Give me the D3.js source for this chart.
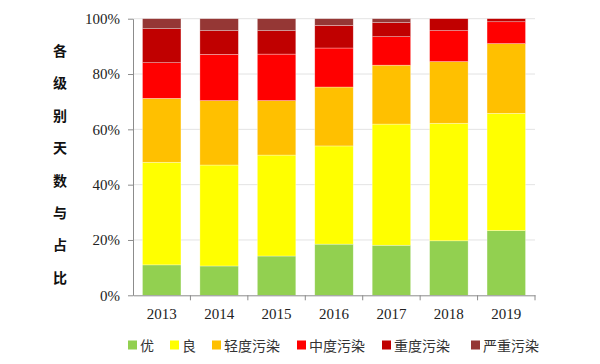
<!DOCTYPE html>
<html><head><meta charset="utf-8">
<script src="https://cdn.jsdelivr.net/npm/d3@7"></script>
<style>body{margin:0;background:#fff;}</style>
</head><body><svg id="c" width="600" height="364"></svg>
<script>
const years = ["2013","2014","2015","2016","2017","2018","2019"];
const seriesNames = ["优","良","轻度污染","中度污染","重度污染","严重污染"];
const colors = ["#92d050","#ffff00","#ffc000","#ff0000","#c00000","#953735"];
const you      = [11.0, 10.6, 14.2, 18.5, 18.1, 19.7, 23.4];
const liang    = [37.1, 36.5, 36.5, 35.5, 43.8, 42.5, 42.4];
const qingdu   = [23.1, 23.3, 19.7, 21.3, 21.3, 22.3, 25.2];
const zhongdu  = [12.9, 16.7, 16.8, 14.1, 10.3, 11.2, 7.9];
const zhongdu2 = [12.3, 8.6, 8.5, 8.2, 5.1, 4.3, 1.1];
const yanzhong = [3.6, 4.3, 4.3, 2.4, 1.4, 0, 0];
const yTicks = [0,20,40,60,80,100];
const yTitle = "各级别天数与占比";

const seriesVals = [you, liang, qingdu, zhongdu, zhongdu2, yanzhong];
const rows = years.map((y,i)=>{const r={year:y};seriesNames.forEach((s,k)=>r[s]=seriesVals[k][i]);return r;});
const stack = d3.stack().keys(seriesNames)(rows);

const svg = d3.select("#c");
const L=133, R=535, T=18.7, B=295.3;
const x = d3.scaleBand().domain(years).range([L,R]).paddingInner(0.33).paddingOuter(0.165);
const y = d3.scaleLinear().domain([0,100]).range([B,T]);

// grid
svg.append("g").selectAll("line").data(yTicks.filter(t=>t>0)).join("line")
  .attr("x1",L).attr("x2",R).attr("y1",d=>y(d)).attr("y2",d=>y(d))
  .attr("stroke","#e3e3e3").attr("stroke-width",1);

// bars
svg.append("g").selectAll("g").data(stack).join("g")
  .attr("fill",(d,i)=>colors[i])
  .selectAll("rect").data(d=>d).join("rect")
  .attr("x",d=>x(d.data.year)).attr("width",x.bandwidth())
  .attr("y",d=>y(d[1])).attr("height",d=>Math.max(0,y(d[0])-y(d[1])))
  .attr("stroke","rgba(255,255,255,0.5)").attr("stroke-width",0.6);

// y axis
const ya = svg.append("g").attr("transform",`translate(${L},0)`)
  .call(d3.axisLeft(y).tickValues(yTicks).tickFormat(d=>d+"%").tickSize(5).tickSizeOuter(0));
ya.attr("font-family",null).attr("font-size",null);
ya.select(".domain").attr("stroke","#8c8c8c");
ya.selectAll(".tick line").attr("stroke","#8c8c8c");
ya.selectAll("text").style("font-family","'Liberation Serif', serif").style("font-size","15px").attr("fill","#222").attr("x",-13);

// x axis
const xa = svg.append("g").attr("transform",`translate(0,${B})`)
  .call(d3.axisBottom(x).tickSize(0).tickSizeOuter(0));
xa.attr("font-family",null).attr("font-size",null);
xa.select(".domain").attr("stroke","#8c8c8c");
xa.selectAll("text").style("font-family","'Liberation Serif', serif").style("font-size","15px").attr("fill","#222").attr("y",18).attr("dy","0.35em");
const bounds = years.map(yr=>x(yr)-x.step()*x.paddingInner()/2).slice(1).concat([R]);
svg.append("g").selectAll("line").data(bounds).join("line")
  .attr("x1",d=>d).attr("x2",d=>d).attr("y1",B).attr("y2",B+5).attr("stroke","#8c8c8c");

// y title vertical
const chars = Array.from(yTitle);
svg.append("g").selectAll("text").data(chars).join("text")
  .attr("x",60).attr("y",(d,i)=>50+i*32.4).attr("text-anchor","middle").attr("dominant-baseline","central")
  .style("font-family","'Noto Sans CJK SC', sans-serif").attr("font-weight","bold").style("font-size","14px").attr("fill","#111")
  .text(d=>d);

// legend
const legX = [128, 170, 212, 297, 382, 471];
const lg = svg.append("g").selectAll("g").data(seriesNames).join("g")
  .attr("transform",(d,i)=>`translate(${legX[i]},345)`);
lg.append("rect").attr("x",0).attr("y",-4.5).attr("width",9).attr("height",9).attr("fill",(d,i)=>colors[i]);
lg.append("text").attr("x",12).attr("y",0).attr("dominant-baseline","central")
  .style("font-family","'Noto Sans CJK SC', sans-serif").style("font-size","14px").attr("fill","#333").text(d=>d);
</script></body></html>
